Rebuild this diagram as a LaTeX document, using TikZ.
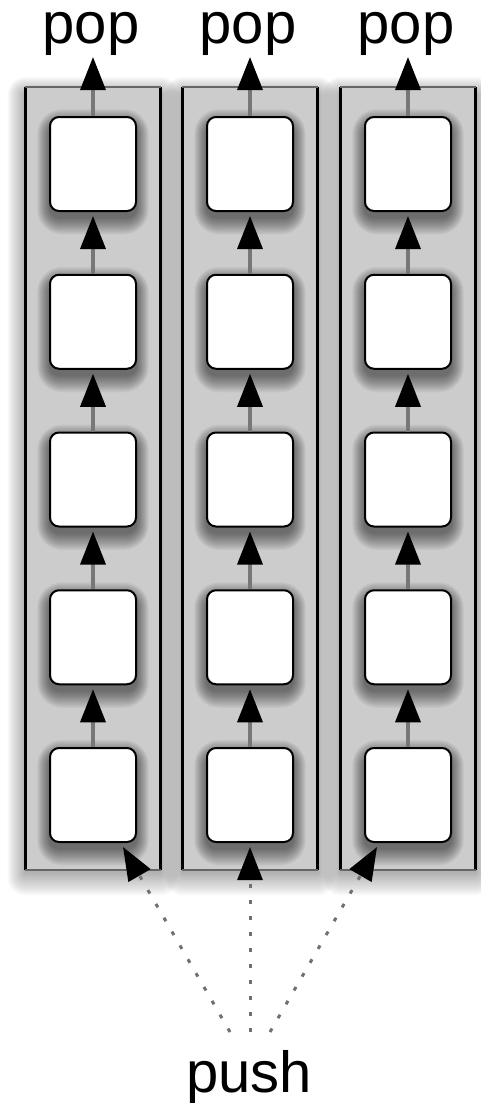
\documentclass[tikz,border=0pt]{standalone}
\usepackage{fontspec}
\setmainfont{Liberation Sans}
\usetikzlibrary{arrows.meta}
\definecolor{colgray}{HTML}{CCCCCC}
\definecolor{linegray}{HTML}{777777}
\definecolor{dotgray}{HTML}{707070}
\definecolor{edgegray}{HTML}{666666}
\begin{document}
\begin{tikzpicture}[x=1pt,y=-1pt,
  colbox/.style={fill=colgray, draw=none, minimum width=135pt, minimum height=783pt, inner sep=0pt},
  cell/.style={draw=black, line width=2pt, fill=white, rounded corners=9pt, minimum width=86pt, minimum height=94pt, inner sep=0pt},
  conn/.style={draw=linegray, line width=3.5pt, -{Triangle[width=25pt,length=33pt,color=black]}},
  pushconn/.style={draw=dotgray, line width=3pt, dash pattern=on 4pt off 12pt, -{Triangle[width=25pt,length=33pt,color=black]}},
  lbl/.style={font=\fontsize{58}{60}\selectfont, inner sep=0pt}
]
\useasboundingbox (0,0) rectangle (480,1103);
% column shadows
\foreach \cx in {93,250,408}{
  \foreach \k in {1,...,18}{
    \pgfmathsetmacro\xa{\cx-67.5-\k}
    \pgfmathsetmacro\xb{\cx+67.5+\k}
    \pgfmathsetmacro\ya{87+8-\k}
    \pgfmathsetmacro\yb{870+2+1.3*\k}
    \fill[black,opacity=0.021,rounded corners=\k pt] (\xa,\ya) rectangle (\xb,\yb);
  }
}
% columns
\foreach \cx [count=\ci] in {93,250,408}{
  \node[colbox] (col\ci) at (\cx,478.5) {};
  \draw[black,line width=2.5pt] (col\ci.north west) -- (col\ci.south west);
  \draw[black,line width=2.5pt] (col\ci.north east) -- (col\ci.south east);
  \draw[edgegray,line width=2.5pt] (col\ci.north west) -- (col\ci.north east);
  \draw[edgegray,line width=2.5pt] (col\ci.south west) -- (col\ci.south east);
}
% cells
\foreach \cx [count=\ci] in {93,250,408}{
  \foreach \r in {1,...,5}{
    \pgfmathsetmacro\cy{164+157.75*(\r-1)}
    \foreach \k in {1,...,16}{
      \pgfmathsetmacro\xa{\cx-43-0.8*\k}
      \pgfmathsetmacro\xb{\cx+43+0.8*\k}
      \pgfmathsetmacro\ya{\cy-47+8-\k}
      \pgfmathsetmacro\yb{\cy+47+6+1.1*\k}
      \pgfmathsetmacro\rc{9+\k}
      \fill[black,opacity=0.037,rounded corners=\rc pt] (\xa,\ya) rectangle (\xb,\yb);
    }
    \node[cell] (c-\ci-\r) at (\cx,\cy) {};
  }
}
% connectors between cells
\foreach \ci in {1,2,3}{
  \foreach \r in {2,...,5}{
    \pgfmathtruncatemacro\prev{\r-1}
    \draw[conn, shorten >=4pt] (c-\ci-\r.north) -- (c-\ci-\prev.south);
  }
}
% pop
\foreach \cx [count=\ci] in {93,250,408}{
  \coordinate (poptip\ci) at (\cx,57);
  \draw[conn] (c-\ci-1.north) -- (poptip\ci);
  \node[lbl, anchor=base] (pop\ci) at (\cx-2,43) {pop};
}
% push
\node[lbl, anchor=base] (push) at (249,1092) {push};
\coordinate (ps1) at (230,1032);
\coordinate (ps2) at (250,1032);
\coordinate (ps3) at (270,1032);
\coordinate (pt1) at (123,847);
\coordinate (pt2) at (250,847);
\coordinate (pt3) at (377,847);
\draw[pushconn] (ps1) -- (pt1);
\draw[pushconn] (ps2) -- (pt2);
\draw[pushconn] (ps3) -- (pt3);
\end{tikzpicture}
\end{document}
